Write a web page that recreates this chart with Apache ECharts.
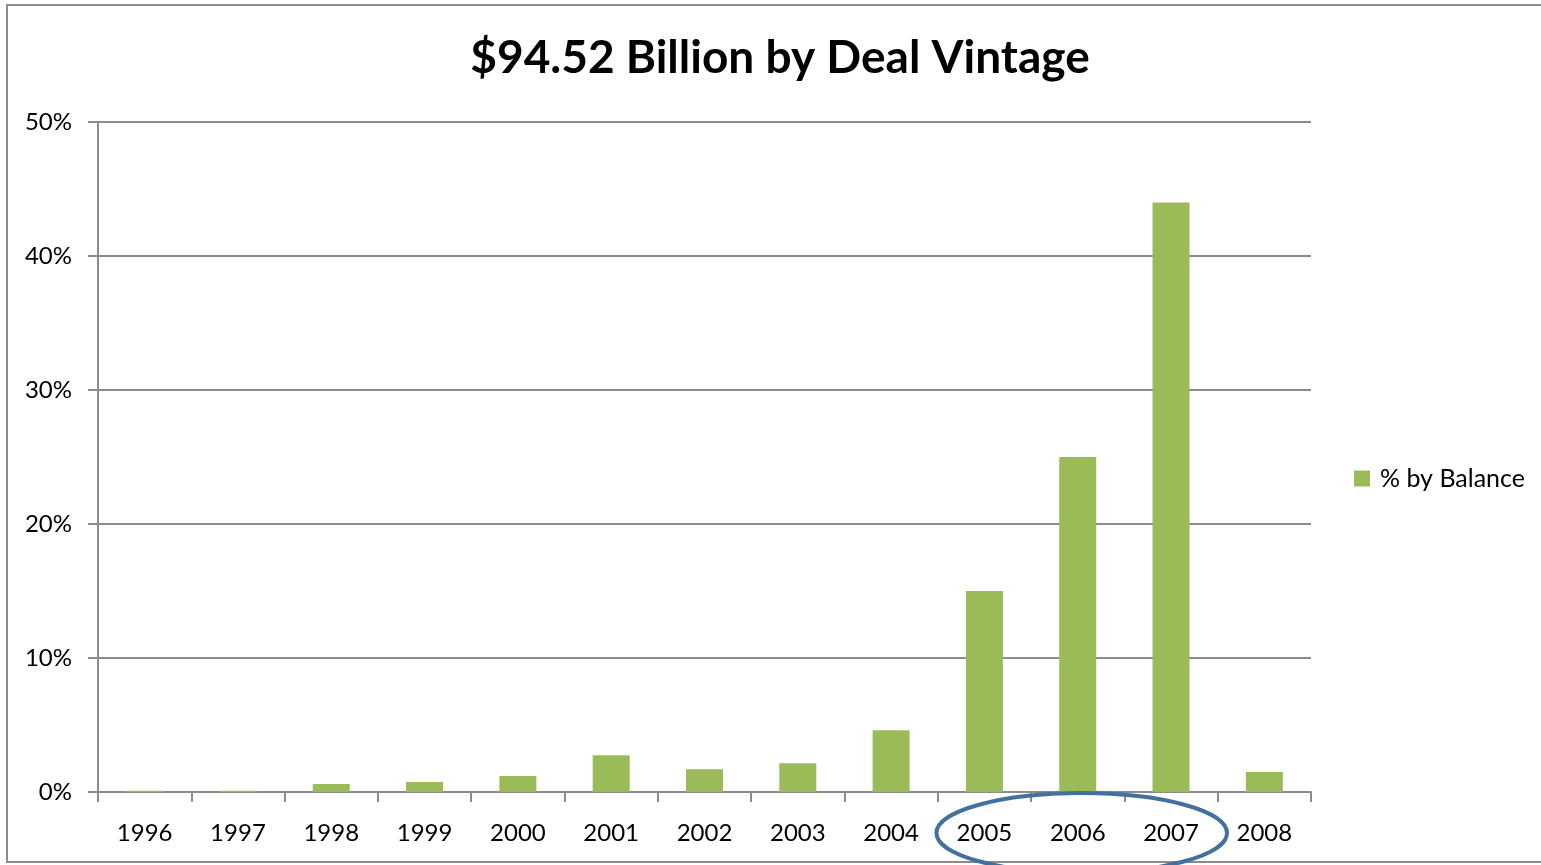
<!DOCTYPE html>
<html>
<head>
<meta charset="utf-8">
<script src="https://cdn.jsdelivr.net/npm/echarts@6/dist/echarts.min.js"></script>
<style>
  html, body { margin: 0; padding: 0; background: #fff; }
  #chart { width: 1541px; height: 865px; }
</style>
</head>
<body>
<div id="chart"></div>
<script>
// Deal vintage years and share of balance (%)
const years = ['1996', '1997', '1998', '1999', '2000', '2001', '2002', '2003', '2004', '2005', '2006', '2007', '2008'];
const pctByBalance = [0.1, 0.1, 0.6, 0.75, 1.2, 2.75, 1.7, 2.15, 4.6, 15.0, 25.0, 44.0, 1.5];
const seriesName = '% by Balance';
const titleText = '$94.52 Billion by Deal Vintage';
// Years picked out by the highlight ring
const highlightYears = ['2005', '2006', '2007'];

const FONT = 'Lato, "Open Sans", sans-serif';
const GRAY = '#8c8c8c';
const GREEN = '#9bbb59';

const chart = echarts.init(document.getElementById('chart'));

const frame = {
  type: 'rect',
  shape: { x: 7, y: 5, width: 1545, height: 857 },
  style: { fill: 'none', stroke: GRAY, lineWidth: 2 },
  silent: true,
  z: 0
};

const option = {
  backgroundColor: '#ffffff',
  animation: false,
  title: {
    text: titleText,
    left: 775,
    textAlign: 'center',
    top: 30,
    textStyle: { fontFamily: FONT, fontSize: 46, fontWeight: 'bold', color: '#000' }
  },
  legend: {
    data: [seriesName],
    orient: 'vertical',
    left: 1354,
    top: 466,
    padding: 0,
    itemWidth: 16,
    itemHeight: 16,
    itemGap: 8,
    icon: 'rect',
    textStyle: { fontFamily: FONT, fontSize: 25, color: '#000', padding: [0, 0, 0, 5] }
  },
  grid: { left: 98, right: 230, top: 122, bottom: 73, containLabel: false },
  xAxis: {
    type: 'category',
    data: years,
    axisLine: { lineStyle: { color: GRAY, width: 2 } },
    axisTick: { show: true, alignWithLabel: false, length: 10, lineStyle: { color: GRAY, width: 2 } },
    axisLabel: { fontFamily: FONT, fontSize: 24, color: '#000', margin: 29 }
  },
  yAxis: {
    type: 'value',
    min: 0,
    max: 50,
    interval: 10,
    axisLine: { show: true, lineStyle: { color: GRAY, width: 2 } },
    axisTick: { show: true, length: 10, lineStyle: { color: GRAY, width: 2 } },
    splitLine: { lineStyle: { color: GRAY, width: 2 } },
    axisLabel: { fontFamily: FONT, fontSize: 24, color: '#000', margin: 26, formatter: '{value}%' }
  },
  series: [{
    name: seriesName,
    type: 'bar',
    data: pctByBalance,
    barWidth: 37,
    itemStyle: { color: GREEN }
  }],
  graphic: [frame]
};

chart.setOption(option);

// Ring around the highlighted vintages, placed from the category axis
const first = chart.convertToPixel({ xAxisIndex: 0 }, highlightYears[0]);
const last = chart.convertToPixel({ xAxisIndex: 0 }, highlightYears[highlightYears.length - 1]);
const baseY = chart.convertToPixel({ yAxisIndex: 0 }, 0);
const cx = (first + last) / 2 + 4;
const rx = (last - first) / 2 + 52;
chart.setOption({
  graphic: [frame, {
    type: 'ellipse',
    shape: { cx: cx, cy: baseY + 41, rx: rx, ry: 40 },
    style: { fill: 'none', stroke: '#41719c', lineWidth: 4 },
    silent: true,
    z: 100
  }]
});
</script>
</body>
</html>
